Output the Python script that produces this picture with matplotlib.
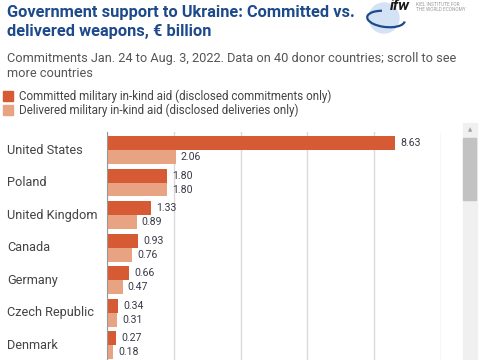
import matplotlib.pyplot as plt
from matplotlib.patches import Rectangle, Ellipse, Arc
from matplotlib.transforms import blended_transform_factory

plt.rcParams['font.family'] = ['Roboto', 'DejaVu Sans']

countries = ["United States", "Poland", "United Kingdom", "Canada",
             "Germany", "Czech Republic", "Denmark"]
committed = [8.63, 1.80, 1.33, 0.93, 0.66, 0.34, 0.27]
delivered = [2.06, 1.80, 0.89, 0.76, 0.47, 0.31, 0.18]
xticks = [0, 2, 4, 6, 8, 10]

c_comm = "#D65B35"
c_deliv = "#E8A383"
blue = "#1D4A8A"

W, H = 485, 360
fig = plt.figure(figsize=(W / 100, H / 100), dpi=100)

def fx(px):
    return px / W

def fy(py):
    return 1 - py / H

# title block
fig.text(fx(7), fy(22), "Government support to Ukraine: Committed vs.\ndelivered weapons, € billion",
         fontsize=11.8, fontweight="bold", color=blue, va="center", linespacing=1.35)
fig.text(fx(7), fy(66), "Commitments Jan. 24 to Aug. 3, 2022. Data on 40 donor countries; scroll to see\nmore countries",
         fontsize=9.2, color="#555555", va="center", linespacing=1.25)

# legend
for i, (lab, col) in enumerate([("Committed military in-kind aid (disclosed commitments only)", c_comm),
                                ("Delivered military in-kind aid (disclosed deliveries only)", c_deliv)]):
    y = 96 + i * 14
    fig.patches.append(Rectangle((fx(3), fy(y + 5)), fx(10), 10 / H, color=col,
                                 transform=fig.transFigure, figure=fig))
    fig.text(fx(19), fy(y), lab, fontsize=8.4, color="#444444", va="center")

# logo (rough)
fig.patches.append(Ellipse((fx(384), fy(18)), fx(30), 30 / H, color="#D3E3F5",
                           transform=fig.transFigure, figure=fig))
fig.patches.append(Arc((fx(386), fy(19)), fx(38), 16 / H, theta1=120, theta2=360,
                       angle=-10, color="#1D4A8A", lw=1.6,
                       transform=fig.transFigure, figure=fig))
fig.text(fx(390), fy(6), "ifw", fontsize=11, fontweight="bold", style="italic",
         color="#1a1a1a", va="center")
fig.text(fx(416), fy(7), "KIEL INSTITUTE FOR\nTHE WORLD ECONOMY", fontsize=3.4,
         color="#9a9a9a", va="center")

# scrollbar
fig.patches.append(Rectangle((fx(463), 0), fx(14), 1 - 123 / H, color="#F0F0F0",
                             transform=fig.transFigure, figure=fig))
fig.patches.append(Rectangle((fx(463.5), fy(200)), fx(13), 62 / H, color="#C2C2C2",
                             transform=fig.transFigure, figure=fig))
fig.text(fx(470), fy(130), "▲", fontsize=4, color="#A0A0A0", ha="center", va="center")

# chart
ax = fig.add_axes([fx(107), 0, fx(441 - 107), fy(132)])
y = range(len(countries))
h = 0.43
yc = [v - h / 2 for v in y]
yd = [v + h / 2 for v in y]
ax.barh(yc, committed, height=h, color=c_comm, zorder=3)
ax.barh(yd, delivered, height=h, color=c_deliv, zorder=3)

for yy, v in zip(yc, committed):
    ax.text(v + 0.15, yy, f"{v:.2f}", fontsize=7.6, color="#3a3a48", va="center")
for yy, v in zip(yd, delivered):
    ax.text(v + 0.15, yy, f"{v:.2f}", fontsize=7.6, color="#3a3a48", va="center")

ax.set_xlim(0, 10)
ax.set_ylim(6.46, -0.554)
ax.set_xticks(xticks)
ax.grid(axis="x", color="#DADADA", linewidth=1, zorder=0)
ax.tick_params(length=0, labelbottom=False)
ax.set_yticks(list(y))
ax.set_yticklabels([])
for spine in ["top", "right", "bottom"]:
    ax.spines[spine].set_visible(False)
ax.spines["left"].set_color("#999999")
ax.spines["left"].set_zorder(4)

lab_tr = blended_transform_factory(fig.transFigure, ax.transData)
for i, name in enumerate(countries):
    fig.text(fx(7), i, name, fontsize=9.2, color="#444444", va="center",
             transform=lab_tr)

fig.savefig("out.png", dpi=100)
